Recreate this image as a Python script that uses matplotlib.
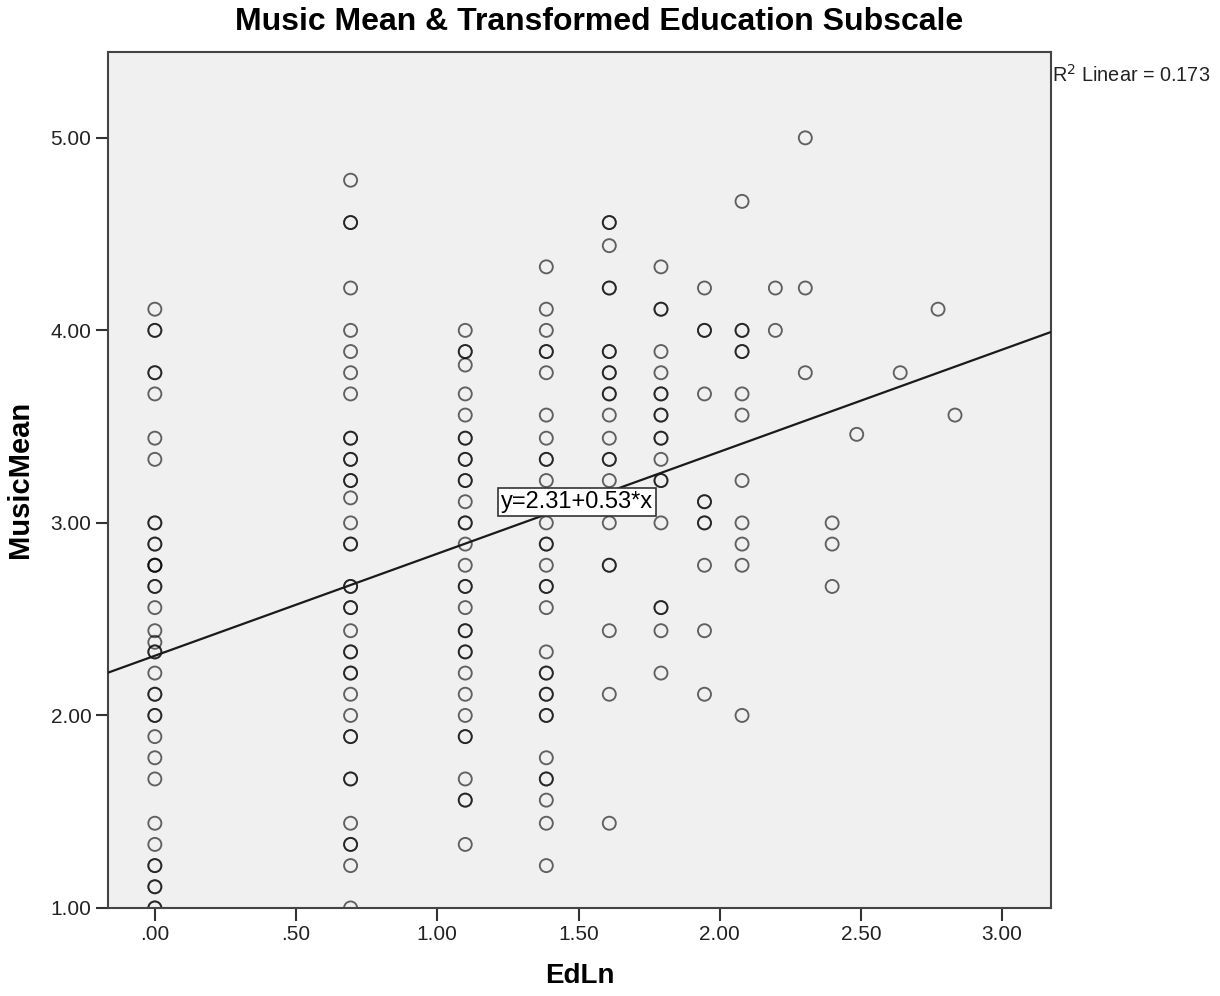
"""SPSS-style scatter: Music Mean vs log-transformed education subscale."""

import matplotlib

matplotlib.use("Agg")
import matplotlib.pyplot as plt
import numpy as np

plt.rcParams["font.family"] = ["Liberation Sans", "DejaVu Sans"]

# x positions (EdLn = ln of education subscale)
edln_levels = [0.0, 0.693, 1.099, 1.386, 1.609, 1.792, 1.946, 2.079,
               2.197, 2.303, 2.398, 2.485, 2.639, 2.773, 2.833]

# MusicMean values per EdLn level (repeats = overlapping points)
music_ed00 = [4.11, 4.00, 4.00, 3.78, 3.78, 3.67, 3.44, 3.33, 3.00, 3.00,
              2.89, 2.89, 2.78, 2.78, 2.78, 2.67, 2.67, 2.56, 2.44, 2.38,
              2.33, 2.33, 2.22, 2.11, 2.11, 2.00, 2.00, 1.89, 1.78, 1.67,
              1.44, 1.33, 1.22, 1.22, 1.11, 1.11, 1.00, 1.00]
music_ed69 = [4.78, 4.56, 4.56, 4.22, 4.00, 3.89, 3.78, 3.67, 3.44, 3.44,
              3.33, 3.33, 3.22, 3.22, 3.13, 3.00, 2.89, 2.89, 2.67, 2.67,
              2.56, 2.56, 2.44, 2.33, 2.33, 2.22, 2.22, 2.11, 2.00, 1.89,
              1.89, 1.67, 1.67, 1.44, 1.33, 1.33, 1.22, 1.00]
music_ed110 = [4.00, 3.89, 3.89, 3.82, 3.67, 3.56, 3.44, 3.44, 3.33, 3.33,
               3.22, 3.22, 3.11, 3.00, 3.00, 2.89, 2.78, 2.67, 2.67, 2.56,
               2.44, 2.44, 2.33, 2.33, 2.22, 2.11, 2.00, 1.89, 1.89, 1.67,
               1.56, 1.56, 1.33]
music_ed139 = [4.33, 4.11, 4.00, 3.89, 3.89, 3.78, 3.56, 3.44, 3.33, 3.33,
               3.22, 3.11, 3.00, 2.89, 2.89, 2.78, 2.67, 2.67, 2.56, 2.33,
               2.22, 2.22, 2.11, 2.11, 2.00, 2.00, 1.78, 1.67, 1.67, 1.56,
               1.44, 1.22]
music_ed161 = [4.56, 4.56, 4.44, 4.22, 4.22, 3.89, 3.89, 3.78, 3.78, 3.67,
               3.67, 3.56, 3.44, 3.33, 3.33, 3.22, 3.00, 2.78, 2.78, 2.44,
               2.11, 1.44]
music_ed179 = [4.33, 4.11, 4.11, 3.89, 3.78, 3.67, 3.67, 3.56, 3.56, 3.44,
               3.44, 3.33, 3.22, 3.22, 3.00, 2.56, 2.56, 2.44, 2.22]
music_ed195 = [4.22, 4.00, 4.00, 3.67, 3.11, 3.11, 3.00, 3.00, 2.78, 2.44, 2.11]
music_ed208 = [4.67, 4.00, 4.00, 3.89, 3.89, 3.67, 3.56, 3.22, 3.00, 2.89,
               2.78, 2.00]
music_ed220 = [4.22, 4.00]
music_ed230 = [5.00, 4.22, 3.78]
music_ed240 = [3.00, 2.89, 2.67]
music_ed248 = [3.46]
music_ed264 = [3.78]
music_ed277 = [4.11]
music_ed283 = [3.56]

music_by_level = [music_ed00, music_ed69, music_ed110, music_ed139, music_ed161,
                  music_ed179, music_ed195, music_ed208, music_ed220, music_ed230,
                  music_ed240, music_ed248, music_ed264, music_ed277, music_ed283]

# fit line as reported
fit_intercept = 2.31
fit_slope = 0.53
r2_linear = 0.173

x_ticks = [0.0, 0.5, 1.0, 1.5, 2.0, 2.5, 3.0]
x_tick_labels = [".00", ".50", "1.00", "1.50", "2.00", "2.50", "3.00"]
y_ticks = [1.0, 2.0, 3.0, 4.0, 5.0]
y_tick_labels = ["1.00", "2.00", "3.00", "4.00", "5.00"]


def main() -> None:
    x = np.concatenate([[lvl] * len(vals) for lvl, vals in zip(edln_levels, music_by_level)])
    y = np.concatenate(music_by_level)

    fig = plt.figure(figsize=(12.2, 9.96), dpi=100)
    ax = fig.add_axes([0.0885, 0.0884, 0.773, 0.8596])
    ax.set_facecolor("#f0f0f0")

    ax.scatter(x, y, s=88, facecolors="none", edgecolors=(0, 0, 0, 0.6),
               linewidths=1.35, zorder=2)

    xlim = (-0.166, 3.173)
    xs = np.array(xlim)
    ax.plot(xs, fit_intercept + fit_slope * xs, color="#1a1a1a", lw=1.6, zorder=3)
    ax.set_xlim(*xlim)
    ax.set_ylim(1.0, 5.447)

    ax.text(1.496, 3.107, "y=2.31+0.53*x", fontsize=17, ha="center", va="center",
            zorder=5, bbox=dict(boxstyle="square,pad=0.12", fc="white", ec="#333333", lw=1.2))

    ax.set_xticks(x_ticks)
    ax.set_xticklabels(x_tick_labels)
    ax.set_yticks(y_ticks)
    ax.set_yticklabels(y_tick_labels)
    ax.tick_params(direction="out", length=9, width=1.5, color="#333333",
                   labelsize=15, labelcolor="#222222", pad=3)
    for side in ax.spines.values():
        side.set_color("#444444")
        side.set_linewidth(1.5)

    ax.set_xlabel("EdLn", fontsize=20, fontweight="bold", labelpad=14)
    ax.set_ylabel("MusicMean", fontsize=21, fontweight="bold", labelpad=12)
    fig.suptitle("Music Mean & Transformed Education Subscale", x=0.491, y=0.993,
                 fontsize=23, fontweight="bold")

    fig.text(0.8625, 0.925, "R$^2$ Linear = %.3f" % r2_linear, fontsize=14.3,
             ha="left", va="center", color="#222222")

    fig.savefig("out.png", dpi=100)
    plt.close(fig)


if __name__ == "__main__":
    main()
